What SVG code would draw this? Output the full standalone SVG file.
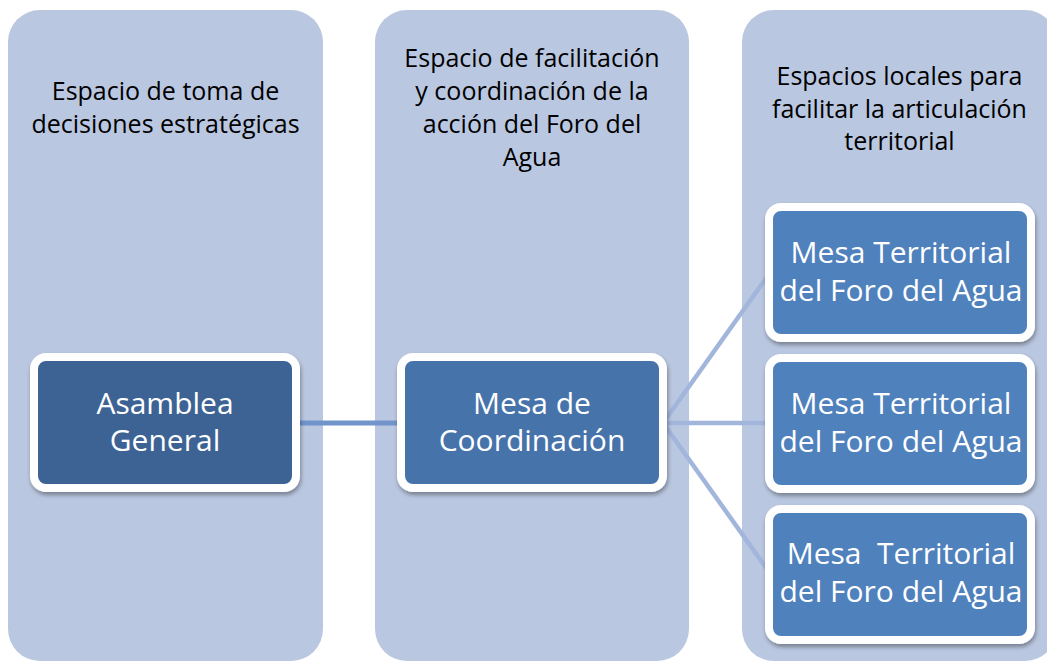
<svg xmlns="http://www.w3.org/2000/svg" width="1047" height="661" viewBox="0 0 1047 661">
<defs>
<filter id="sh" x="-10%" y="-10%" width="125%" height="130%">
<feDropShadow dx="1" dy="3" stdDeviation="2.2" flood-color="#000" flood-opacity="0.35"/>
</filter>
<style>
.col{fill:#BAC7E0;}
.title{font-family:"Open Sans","Noto Sans",sans-serif;font-size:25px;fill:#000;text-anchor:middle;}
.box{stroke:#fff;stroke-width:8;filter:url(#sh);}
.lbl{font-family:"Open Sans","Noto Sans",sans-serif;font-size:30px;fill:#fff;text-anchor:middle;}
.c1{stroke:#7194CB;stroke-width:5;fill:none;}
.c2{stroke:#A2B5DA;stroke-width:4.5;fill:none;}
</style>
</defs>
<rect width="1047" height="661" fill="#fff"/>
<g id="col1">
<rect class="col" x="8" y="10" width="315" height="651" rx="32"/>
<text class="title" x="165.5" y="100">Espacio de toma de</text>
<text class="title" x="165.5" y="133">decisiones estratégicas</text>
</g>
<g id="col2">
<rect class="col" x="375" y="10" width="314" height="651" rx="32"/>
<text class="title" x="532" y="67">Espacio de facilitación</text>
<text class="title" x="532" y="100">y coordinación de la</text>
<text class="title" x="532" y="133">acción del Foro del</text>
<text class="title" x="532" y="166">Agua</text>
</g>
<g id="col3">
<rect class="col" x="742" y="10" width="315" height="651" rx="32"/>
<text class="title" x="899.5" y="85">Espacios locales para</text>
<text class="title" x="899.5" y="118">facilitar la articulación</text>
<text class="title" x="899.5" y="150">territorial</text>
</g>
<g id="connectors">
<line class="c1" x1="296" y1="423" x2="401" y2="423"/>
<line class="c2" x1="663" y1="423" x2="772" y2="270"/>
<line class="c2" x1="663" y1="423" x2="772" y2="423"/>
<line class="c2" x1="663" y1="423" x2="772" y2="576"/>
</g>
<g id="asamblea">
<rect class="box" x="34" y="357" width="262" height="131" rx="12" fill="#3C6495"/>
<text class="lbl" x="165" y="414">Asamblea</text>
<text class="lbl" x="165" y="451">General</text>
</g>
<g id="mesa-coordinacion">
<rect class="box" x="401" y="357" width="262" height="131" rx="12" fill="#4773AB"/>
<text class="lbl" x="532" y="414">Mesa de</text>
<text class="lbl" x="532" y="451">Coordinación</text>
</g>
<g id="mesa-territorial-1">
<rect class="box" x="769" y="207" width="262" height="131" rx="12" fill="#4F81BD"/>
<text class="lbl" x="901" y="263">Mesa Territorial</text>
<text class="lbl" x="901" y="301">del Foro del Agua</text>
</g>
<g id="mesa-territorial-2">
<rect class="box" x="769" y="358" width="262" height="131" rx="12" fill="#4F81BD"/>
<text class="lbl" x="901" y="414">Mesa Territorial</text>
<text class="lbl" x="901" y="452">del Foro del Agua</text>
</g>
<g id="mesa-territorial-3">
<rect class="box" x="769" y="509" width="262" height="131" rx="12" fill="#4F81BD"/>
<text class="lbl" x="901" y="564" xml:space="preserve">Mesa  Territorial</text>
<text class="lbl" x="901" y="602">del Foro del Agua</text>
</g>
</svg>
